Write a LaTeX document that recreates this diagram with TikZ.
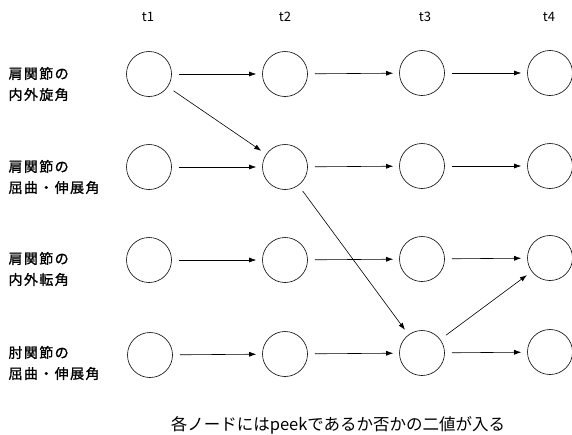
\documentclass[tikz,border=0pt]{standalone}
\usepackage{fontspec}
\setmainfont{Noto Sans CJK JP}
\newfontfamily\rowfont[LetterSpace=10,FakeBold=1.2]{Noto Sans CJK JP}
\usetikzlibrary{arrows.meta}
\tikzset{
  state/.style={draw, circle, minimum size=45pt, inner sep=0pt, line width=0.6pt},
  arr/.style={-{Latex[length=7pt,width=5pt]}, line width=0.6pt, shorten <=7pt, shorten >=6pt},
  rowlabel/.style={anchor=west, align=left, font=\rowfont\fontsize{14}{21}\selectfont},
  timelabel/.style={font=\fontsize{13}{13}\selectfont}
}

\begin{document}
\begin{tikzpicture}[x=1pt, y=-1pt]
            \useasboundingbox (0,0) rectangle (572,434);
            \node[timelabel] (t1) at (148,17) {t1};
            \node[timelabel] (t2) at (285,17) {t2};
            \node[timelabel] (t3) at (425,17) {t3};
            \node[timelabel] (t4) at (549,17) {t4};
            \node[rowlabel] (lab1) at (5,84) {肩関節の\\内外旋角};
            \node[rowlabel] (lab2) at (5,177) {肩関節の\\屈曲・伸展角};
            \node[rowlabel] (lab3) at (5,269) {肩関節の\\内外転角};
            \node[rowlabel] (lab4) at (5,363) {肘関節の\\屈曲・伸展角};
            \node[state] (a1) at (149,74) {};
            \node[state] (b1) at (285,74) {};
            \node[state] (c1) at (422,73) {};
            \node[state] (d1) at (550,73) {};
            \node[state] (a2) at (149,167) {};
            \node[state] (b2) at (285,167) {};
            \node[state] (c2) at (422,166) {};
            \node[state] (d2) at (550,166) {};
            \node[state] (a3) at (149,260) {};
            \node[state] (b3) at (285,260) {};
            \node[state] (c3) at (422,259) {};
            \node[state] (d3) at (550,258) {};
            \node[state] (a4) at (150,355) {};
            \node[state] (b4) at (285,354) {};
            \node[state] (c4) at (422,353) {};
            \node[state] (d4) at (550,352) {};
            \draw[arr] (a1) -- (b1);
            \draw[arr] (b1) -- (c1);
            \draw[arr] (c1) -- (d1);
            \draw[arr] (a2) -- (b2);
            \draw[arr] (b2) -- (c2);
            \draw[arr] (c2) -- (d2);
            \draw[arr] (a3) -- (b3);
            \draw[arr] (b3) -- (c3);
            \draw[arr] (c3) -- (d3);
            \draw[arr] (a4) -- (b4);
            \draw[arr] (b4) -- (c4);
            \draw[arr] (c4) -- (d4);
            \draw[arr] (a1) -- (b2);
            \draw[arr] (b2) -- (c4);
            \draw[arr] (c4) -- (d3);
            \node[font=\fontsize{16.5}{16.5}\selectfont] (note) at (338,425) {各ノードにはpeekであるか否かの二値が入る};
        \end{tikzpicture}
\end{document}
